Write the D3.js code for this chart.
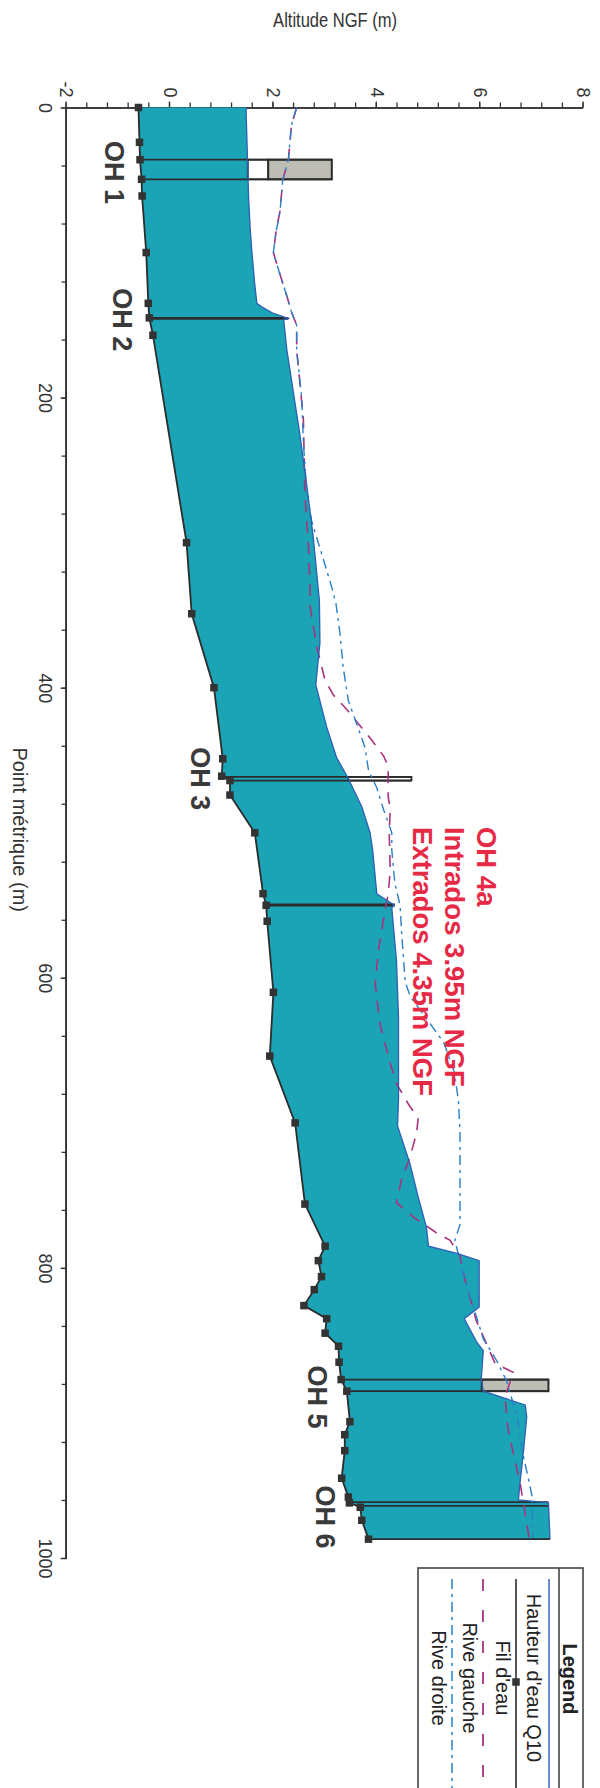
<!DOCTYPE html>
<html>
<head>
<meta charset="utf-8">
<script src="https://cdn.jsdelivr.net/npm/d3@7"></script>
<style>
  html, body { margin: 0; padding: 0; background: #fff; }
  svg { display: block; }
</style>
</head>
<body>
<script>
// Longitudinal profile: altitude NGF (m) along the point métrique (m).
// The profile is laid out landscape and turned a quarter turn clockwise.

const pmTicks = [0, 200, 400, 600, 800, 1000];
const altTicks = [-2, 0, 2, 4, 6, 8];

// [point métrique, altitude NGF]
const filEau = [
  [0, -0.61], [24, -0.59], [36, -0.58], [49.5, -0.55], [61, -0.54], [100, -0.46],
  [135, -0.42], [145, -0.40], [157, -0.33], [300, 0.32], [349, 0.42], [400, 0.85],
  [449, 1.02], [461, 1.0], [464, 1.16], [474, 1.16], [500, 1.64], [542, 1.80],
  [550, 1.86], [561, 1.88], [610, 2.0], [654, 1.93], [700, 2.42], [756, 2.61],
  [785, 3.0], [795, 2.87], [806, 2.93], [815, 2.79], [826, 2.59], [835, 3.03],
  [845, 3.0], [854, 3.26], [865, 3.27], [877, 3.31], [885, 3.42], [906, 3.48],
  [915, 3.38], [926, 3.38], [945, 3.32], [958, 3.45], [962, 3.47], [965, 3.68],
  [974, 3.71], [987, 3.84]
];

const hauteurQ10 = [
  [0, 1.47], [62, 1.52], [83, 1.55], [98, 1.58], [122, 1.64], [135, 1.68],
  [138, 1.80], [142, 2.0], [145.4, 2.29], [146.5, 2.20], [167, 2.26], [225, 2.51],
  [259, 2.64], [296, 2.77], [340, 2.89], [369, 2.90], [398, 2.82], [427, 3.03],
  [448, 3.22], [461.4, 3.43], [465, 3.48], [482, 3.71], [500, 3.87], [512, 3.92],
  [542, 4.0], [549.8, 4.33], [552, 4.29], [588, 4.38], [627, 4.42], [684, 4.42],
  [702, 4.40], [728, 4.64], [751, 4.80], [772, 4.96], [785, 5.0], [790, 5.55],
  [795, 5.98], [827, 5.98], [835, 5.69], [851, 5.93], [857, 6.06], [877, 6.02],
  [885, 6.06], [894.5, 6.87], [902.6, 6.9], [925.5, 6.84], [948, 6.77], [960, 6.74],
  [962, 7.32], [987, 7.35]
];

const riveGauche = [
  [0, 2.45], [12, 2.35], [36, 2.29], [50, 2.18], [71, 2.13], [86, 2.05], [100, 2.0],
  [112, 2.10], [130, 2.26], [141, 2.35], [150, 2.45], [167, 2.45], [215, 2.58],
  [267, 2.61], [304, 2.68], [331, 2.71], [344, 2.71], [372, 2.84], [395, 3.0],
  [405, 3.16], [415, 3.42], [436, 3.90], [447, 4.13], [454, 4.22], [475, 4.22],
  [484, 4.26], [500, 4.24], [526, 4.26], [542, 4.22], [560, 4.13], [581, 4.03],
  [604, 3.97], [632, 4.06], [659, 4.26], [673, 4.38], [687, 4.61], [697, 4.80],
  [707, 4.77], [724, 4.64], [739, 4.48], [755, 4.38], [765, 4.71], [776, 5.16],
  [781, 5.42], [792, 5.61], [809, 5.71], [825, 5.84], [836, 5.92], [866, 6.29],
  [872, 6.64], [889, 6.48], [912, 6.54], [948, 6.77], [987, 6.95]
];

const riveDroite = [
  [0, 2.45], [12, 2.35], [36, 2.29], [50, 2.18], [71, 2.13], [86, 2.05], [100, 2.0],
  [112, 2.10], [130, 2.26], [141, 2.35], [150, 2.45], [167, 2.45], [201, 2.55],
  [231, 2.58], [263, 2.64], [285, 2.74], [312, 2.97], [331, 3.13], [342, 3.21],
  [363, 3.29], [386, 3.35], [409, 3.45], [425, 3.61], [441, 3.77], [457, 3.84],
  [469, 4.0], [484, 4.13], [500, 4.29], [512, 4.29], [535, 4.35], [550, 4.45],
  [569, 4.48], [603, 4.55], [613, 4.65], [630, 5.0], [645, 5.3], [665, 5.5],
  [685, 5.58], [707, 5.61], [770, 5.61], [781, 5.51], [804, 5.67], [827, 5.87],
  [849, 6.06], [864, 6.32], [878, 6.51], [902, 6.71], [929, 6.83], [945, 6.93],
  [957, 7.0], [987, 7.02]
];

// Structures (ouvrages hydrauliques)
const ohNames    = ["OH 1", "OH 2", "OH 3", "OH 4a", "OH 5", "OH 6"];
const ohStart    = [36, 145.4, 461.5, 549.8, 877, 961.5];
const ohEnd      = [49.5, 145.4, 464, 549.8, 885, 964];
const ohIntrados = [1.90, 2.29, 4.67, 3.95, 6.03, 7.32];
const ohTop      = [3.13, 2.29, 4.67, 4.35, 7.32, 7.32];

const oh4aNote = ["OH 4a", "Intrados 3.95m NGF", "Extrados 4.35m NGF"];
const legendLabels = ["Hauteur d'eau Q10", "Fil d'eau", "Rive gauche", "Rive droite"];

// ---------------------------------------------------------------------------
const W = 600, H = 1788;
const FONT = "'Liberation Sans', Arial, Helvetica, sans-serif";

const svg = d3.select("body").append("svg")
  .attr("width", W).attr("height", H)
  .attr("viewBox", `0 0 ${W} ${H}`);

// landscape frame: x along the channel, y up in altitude
const g = svg.append("g").attr("transform", `translate(${W},0) rotate(90)`);

const x = d3.scaleLinear().domain([0, 1000]).range([107.5, 1558]);
const y = d3.scaleLinear().domain([-2, 8]).range([533.4, 16.4]);

const line = d3.line().x(d => x(d[0])).y(d => y(d[1]));

function altAt(series, pm) {
  for (let i = 0; i < series.length - 1; i++) {
    const a = series[i], b = series[i + 1];
    if (pm >= a[0] && pm <= b[0]) {
      const t = b[0] === a[0] ? 0 : (pm - a[0]) / (b[0] - a[0]);
      return a[1] + t * (b[1] - a[1]);
    }
  }
  return series[series.length - 1][1];
}

const C = {
  water: "#1aa4b6",
  surface: "#2d5fb5",
  bed: "#2c2c2c",
  gauche: "#a8327e",
  droite: "#2b80c6",
  deck: "#bdbdb5",
  ink: "#333333",
  red: "#e62a46"
};

// ---- axes ----
const axisStyle = sel => {
  sel.select(".domain").attr("stroke", C.ink).attr("stroke-width", 1.6);
  sel.selectAll(".tick line").attr("stroke", C.ink).attr("stroke-width", 1.3);
  sel.selectAll(".tick text").attr("fill", C.ink)
    .style("font-family", FONT).style("font-size", "18px");
};

const minorAlt = d3.range(0, 26).map(i => -2 + i * 0.4);
const minorPm = d3.range(0, 26).map(i => i * 40);

g.append("g").attr("transform", `translate(${x(0)},0)`)
  .call(d3.axisLeft(y).tickValues(minorAlt).tickSize(5).tickSizeOuter(0).tickFormat(""))
  .call(axisStyle);
g.append("g").attr("transform", `translate(${x(0)},0)`)
  .call(d3.axisLeft(y).tickValues(altTicks).tickSize(6).tickSizeOuter(0)
    .tickPadding(4).tickFormat(d => String(d)))
  .call(axisStyle);

g.append("g").attr("transform", `translate(0,${y(-2)})`)
  .call(d3.axisBottom(x).tickValues(minorPm).tickSize(5).tickSizeOuter(0).tickFormat(""))
  .call(axisStyle);
g.append("g").attr("transform", `translate(0,${y(-2)})`)
  .call(d3.axisBottom(x).tickValues(pmTicks).tickSize(6).tickSizeOuter(0)
    .tickPadding(9).tickFormat(d => String(d)))
  .call(axisStyle);

// axis titles
g.append("text")
  .attr("transform", `translate(27,${y(3) - 10}) rotate(-90)`)
  .attr("text-anchor", "middle")
  .attr("textLength", 124).attr("lengthAdjust", "spacingAndGlyphs")
  .style("font-family", FONT).style("font-size", "20px").attr("fill", C.ink)
  .text("Altitude NGF (m)");

g.append("text")
  .attr("x", x(500) - 3).attr("y", 587)
  .attr("text-anchor", "middle")
  .style("font-family", FONT).style("font-size", "20px").attr("fill", C.ink)
  .text("Point métrique  (m)");

// ---- water body between bed and Q10 surface ----
const waterOutline = hauteurQ10.concat(filEau.slice().reverse());
g.append("path")
  .attr("d", line(waterOutline) + "Z")
  .attr("fill", C.water).attr("stroke", "none");

// ---- structures ----
ohNames.forEach((name, i) => {
  const s = ohStart[i], e = ohEnd[i];
  const mid = (s + e) / 2;
  const surf = altAt(hauteurQ10, mid);
  const plate = g.append("g");
  if (e > s) {
    if (ohIntrados[i] > surf) {
      plate.append("rect")
        .attr("x", x(s)).attr("width", x(e) - x(s))
        .attr("y", y(ohIntrados[i])).attr("height", y(surf) - y(ohIntrados[i]))
        .attr("fill", "#ffffff").attr("stroke", C.bed).attr("stroke-width", 1.8);
    }
    if (ohTop[i] > ohIntrados[i]) {
      plate.append("rect")
        .attr("x", x(s)).attr("width", x(e) - x(s))
        .attr("y", y(ohTop[i])).attr("height", y(ohIntrados[i]) - y(ohTop[i]))
        .attr("fill", C.deck).attr("stroke", C.bed).attr("stroke-width", 2);
    }
    [s, e].forEach(pm => {
      plate.append("path")
        .attr("d", line([[pm, altAt(filEau, pm)], [pm, ohTop[i]]]))
        .attr("stroke", C.bed).attr("stroke-width", 1.8).attr("fill", "none");
    });
  } else {
    plate.append("path")
      .attr("d", line([[s, altAt(filEau, s)], [s, ohTop[i]]]))
      .attr("stroke", C.bed).attr("stroke-width", 2.8).attr("fill", "none");
  }
});

// ---- banks ----
g.append("path").attr("d", line(riveGauche))
  .attr("fill", "none").attr("stroke", C.gauche).attr("stroke-width", 1.6)
  .attr("stroke-dasharray", "12,9");
g.append("path").attr("d", line(riveDroite))
  .attr("fill", "none").attr("stroke", C.droite).attr("stroke-width", 1.4)
  .attr("stroke-dasharray", "10,5,3,5");

// ---- Q10 surface and bed ----
g.append("path").attr("d", line(hauteurQ10))
  .attr("fill", "none").attr("stroke", C.surface).attr("stroke-width", 1.3);

const last = filEau[filEau.length - 1][0];
g.append("path")
  .attr("d", line([[last, altAt(filEau, last)], [last, altAt(hauteurQ10, last)]]))
  .attr("fill", "none").attr("stroke", C.bed).attr("stroke-width", 1.6);

g.append("path").attr("d", line(filEau))
  .attr("fill", "none").attr("stroke", C.bed).attr("stroke-width", 1.8);

const MK = 7.5;
g.selectAll("rect.mk").data(filEau).join("rect")
  .attr("class", "mk")
  .attr("x", d => x(d[0]) - MK / 2).attr("y", d => y(d[1]) - MK / 2)
  .attr("width", MK).attr("height", MK)
  .attr("fill", "#333");

// ---- structure labels ----
const labelNudge = [2, 1, 0, 0, 8, 9];
ohNames.forEach((name, i) => {
  if (name === "OH 4a") return;
  const mid = (ohStart[i] + ohEnd[i]) / 2;
  g.append("text")
    .attr("x", x(mid + labelNudge[i]))
    .attr("y", y(altAt(filEau, mid)) + 36)
    .attr("text-anchor", "middle")
    .style("font-family", FONT).style("font-size", "27px").style("font-weight", "bold")
    .attr("fill", "#3a3a3a")
    .text(name);
});

// OH 4a note, three lines stacked above the water line
oh4aNote.forEach((t, k) => {
  g.append("text")
    .attr("x", x(ohStart[3]) - 78)
    .attr("y", 123 + k * 32)
    .style("font-family", FONT).style("font-size", "27.5px").style("font-weight", "bold")
    .attr("fill", C.red)
    .text(t);
});

// ---- legend ----
const lg = g.append("g");
const lx0 = 1568, ly0 = 17, ly1 = 182;
lg.append("rect").attr("x", lx0).attr("y", ly0)
  .attr("width", 260).attr("height", ly1 - ly0)
  .attr("fill", "#fff").attr("stroke", "#444").attr("stroke-width", 1.6);
lg.append("line").attr("x1", lx0).attr("x2", lx0 + 260).attr("y1", 41).attr("y2", 41)
  .attr("stroke", "#444").attr("stroke-width", 1.6);
lg.append("text").attr("x", 1679).attr("y", 37).attr("text-anchor", "middle")
  .style("font-family", FONT).style("font-size", "20px").style("font-weight", "bold")
  .attr("fill", "#222").text("Legend");

const rowLine = [51, 84, 117, 148];
const rowText = [73, 104, 137, 168];
const rowStyle = [
  { stroke: C.surface, width: 1.4, dash: null },
  { stroke: C.bed, width: 1.6, dash: null },
  { stroke: C.gauche, width: 1.8, dash: "12,19" },
  { stroke: C.droite, width: 1.5, dash: "10,5,3,5" }
];
legendLabels.forEach((lab, i) => {
  lg.append("line")
    .attr("x1", 1579).attr("x2", 1800).attr("y1", rowLine[i]).attr("y2", rowLine[i])
    .attr("stroke", rowStyle[i].stroke).attr("stroke-width", rowStyle[i].width)
    .attr("stroke-dasharray", rowStyle[i].dash);
  if (i === 1) {
    lg.append("rect").attr("x", 1682 - MK / 2).attr("y", rowLine[i] - MK / 2)
      .attr("width", MK).attr("height", MK).attr("fill", "#333");
  }
  lg.append("text").attr("x", 1678).attr("y", rowText[i]).attr("text-anchor", "middle")
    .style("font-family", FONT).style("font-size", "20px").attr("fill", "#222")
    .text(lab);
});
</script>
</body>
</html>
